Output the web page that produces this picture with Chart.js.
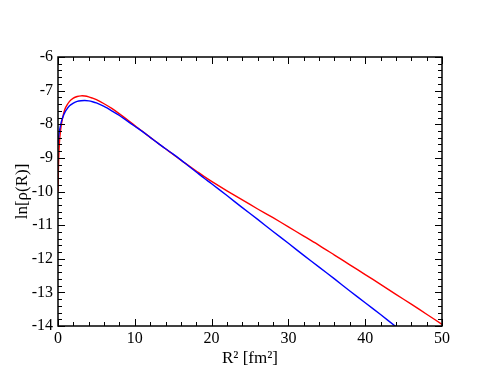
<!DOCTYPE html>
<html>
<head>
<meta charset="utf-8">
<script src="https://cdn.jsdelivr.net/npm/chart.js@4/dist/chart.umd.min.js"></script>
<style>
html,body{margin:0;padding:0;background:#fff;}
#wrap{width:498px;height:385px;position:relative;}
</style>
</head>
<body>
<div id="wrap"><canvas id="c" width="498" height="385"></canvas></div>
<script>
// R^2 values [fm^2] and ln[rho(R)]
const redX = [0, 0.05, 0.1, 0.2, 0.35, 0.5, 0.75, 1, 1.5, 2, 2.5, 3, 3.5, 4, 4.5, 5, 6, 7, 8, 9, 10, 11, 12, 13, 14, 15, 16, 17, 18, 19, 20, 22, 24, 26, 28, 30, 32, 34, 36, 38, 40, 42, 44, 46, 48, 50];
const redY = [-10.0, -9.35, -8.95, -8.5, -8.15, -7.93, -7.66, -7.5, -7.32, -7.225, -7.175, -7.155, -7.16, -7.185, -7.225, -7.27, -7.39, -7.53, -7.69, -7.86, -8.04, -8.21, -8.39, -8.56, -8.73, -8.9, -9.07, -9.23, -9.39, -9.55, -9.7, -9.98, -10.25, -10.52, -10.78, -11.05, -11.33, -11.6, -11.89, -12.18, -12.47, -12.76, -13.06, -13.35, -13.65, -13.95];
const blueX = [0, 0.1, 0.2, 0.43, 0.75, 1, 1.5, 2, 2.5, 3, 3.5, 4, 4.5, 5, 6, 7, 8, 9, 10, 11, 12, 13, 14, 15, 16, 17, 18, 19, 20, 22, 24, 26, 28, 30, 32, 34, 36, 38, 40, 42, 44];
const blueY = [-8.6, -8.35, -8.18, -7.93, -7.72, -7.6, -7.45, -7.37, -7.32, -7.3, -7.295, -7.305, -7.33, -7.365, -7.47, -7.6, -7.74, -7.9, -8.06, -8.22, -8.39, -8.56, -8.73, -8.89, -9.06, -9.24, -9.42, -9.6, -9.77, -10.12, -10.48, -10.83, -11.19, -11.54, -11.9, -12.25, -12.6, -12.96, -13.31, -13.66, -14.02];
const xTicks = [0, 10, 20, 30, 40, 50];
const yTicks = [-14, -13, -12, -11, -10, -9, -8, -7, -6];

const toPts = (xs, ys) => xs.map((x, i) => ({x: x, y: ys[i]}));

const frameTicks = {
  id: 'frameTicks',
  afterDatasetsDraw(chart) {
    const ctx = chart.ctx, a = chart.chartArea, sx = chart.scales.x, sy = chart.scales.y;
    ctx.save();
    ctx.strokeStyle = '#000';
    ctx.lineWidth = 1;
    for (let i = 0; i <= 25; i++) {
      const v = i * 2;
      const p = Math.round(sx.getPixelForValue(v)) + 0.5;
      const len = (v % 10 === 0) ? 7 : 4;
      ctx.beginPath();
      ctx.moveTo(p, a.bottom); ctx.lineTo(p, a.bottom - len);
      ctx.moveTo(p, a.top); ctx.lineTo(p, a.top + len);
      ctx.stroke();
    }
    for (let i = 0; i <= 40; i++) {
      const v = -14 + i * 0.2;
      const p = Math.round(sy.getPixelForValue(v)) + 0.5;
      const len = (i % 5 === 0) ? 7 : 4;
      ctx.beginPath();
      ctx.moveTo(a.left, p); ctx.lineTo(a.left + len, p);
      ctx.moveTo(a.right, p); ctx.lineTo(a.right - len, p);
      ctx.stroke();
    }
    ctx.lineWidth = 1.5;
    ctx.strokeRect(a.left, a.top, a.right - a.left, a.bottom - a.top);
    ctx.restore();
  }
};

new Chart(document.getElementById('c'), {
  type: 'line',
  data: {
    datasets: [
      {data: toPts(blueX, blueY), borderColor: '#0000ff', borderWidth: 1.4, pointRadius: 0, fill: false, tension: 0.3},
      {data: toPts(redX, redY), borderColor: '#ff0000', borderWidth: 1.4, pointRadius: 0, fill: false, tension: 0.3}
    ]
  },
  options: {
    responsive: false,
    animation: false,
    devicePixelRatio: 1,
    layout: {padding: {top: 57, right: 56, left: 0, bottom: 0}},
    plugins: {legend: {display: false}, tooltip: {enabled: false}},
    scales: {
      x: {
        type: 'linear', min: 0, max: 50,
        afterBuildTicks(s) { s.ticks = xTicks.map(v => ({value: v})); },
        afterFit(s) { s.height = 59; },
        grid: {display: false, drawTicks: false},
        border: {display: false},
        ticks: {color: '#000', padding: 3, font: {family: 'Liberation Serif', size: 16}, maxRotation: 0},
        title: {display: true, text: 'R² [fm²]', color: '#000', font: {family: 'Liberation Serif', size: 17}, padding: {top: 2, bottom: 16}}
      },
      y: {
        type: 'linear', min: -14, max: -6,
        afterBuildTicks(s) { s.ticks = yTicks.map(v => ({value: v})); },
        afterFit(s) { s.width = 58; },
        grid: {display: false, drawTicks: false},
        border: {display: false},
        ticks: {color: '#000', padding: 5, font: {family: 'Liberation Serif', size: 16}},
        title: {display: true, text: 'ln[ρ(R)]', color: '#000', font: {family: 'Liberation Serif', size: 17}, padding: {top: 12, bottom: 0}}
      }
    }
  },
  plugins: [frameTicks]
});
</script>
</body>
</html>
